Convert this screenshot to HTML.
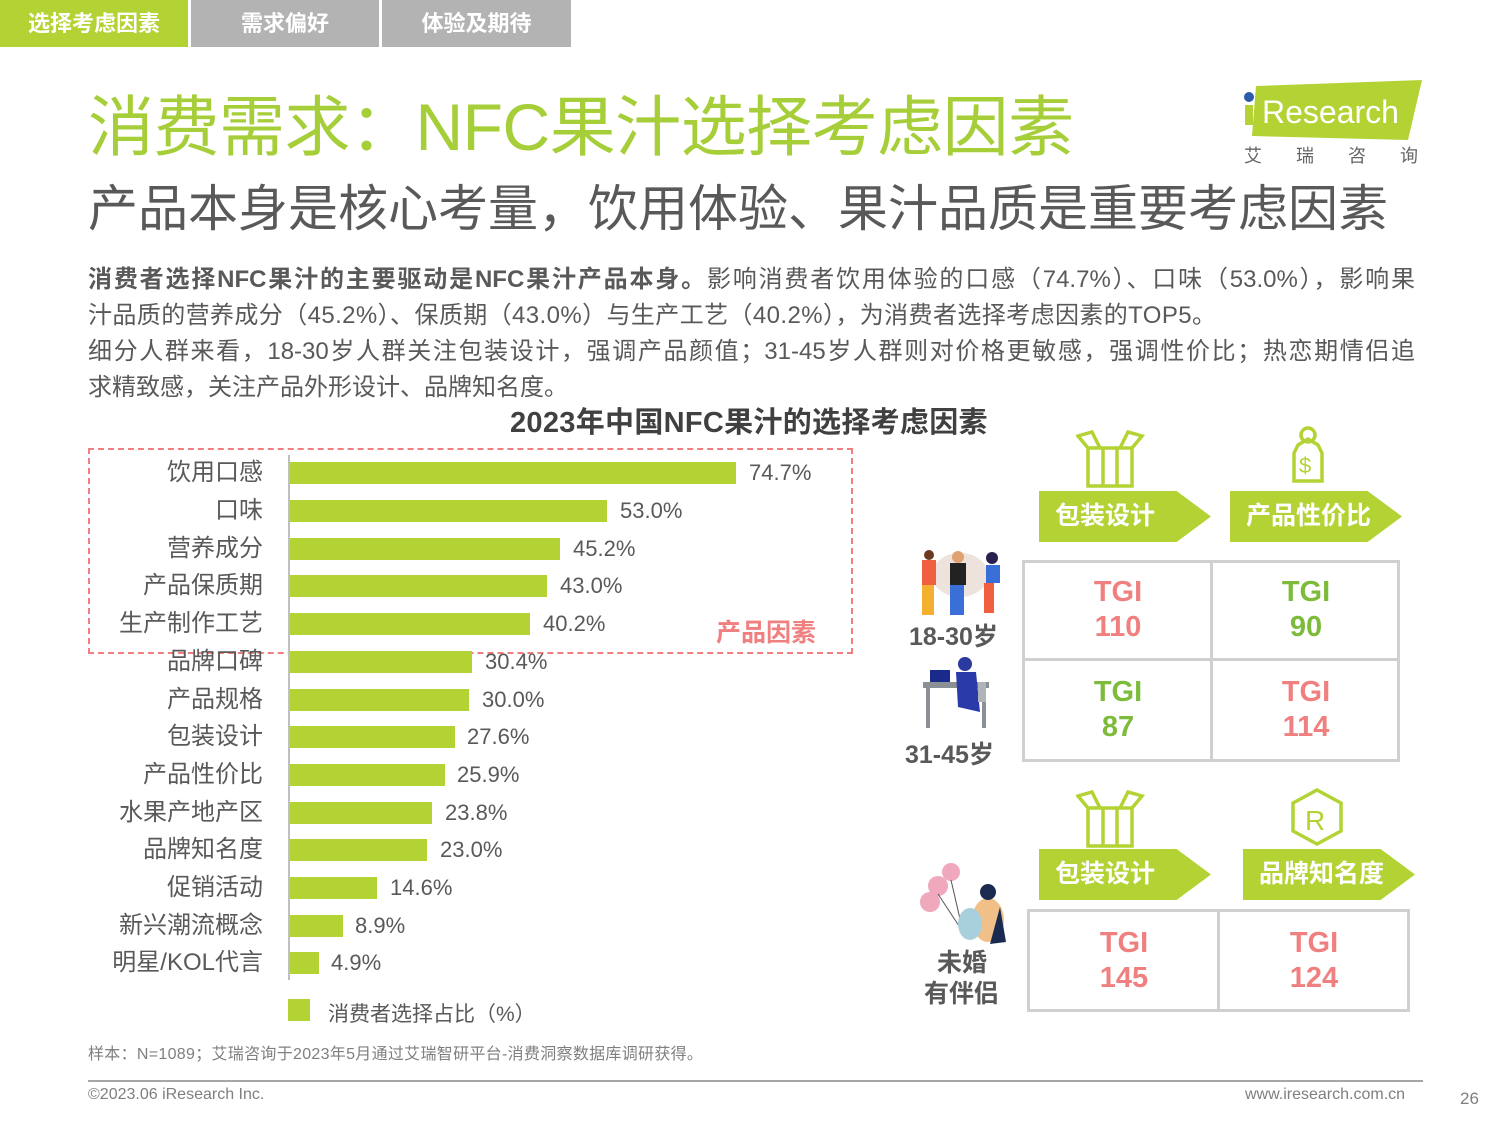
<!DOCTYPE html>
<html><head><meta charset="utf-8"><style>
*{margin:0;padding:0;box-sizing:border-box}
body{width:1500px;height:1125px;background:#fff;position:relative;overflow:hidden;font-family:"Liberation Sans","Noto Sans CJK SC",sans-serif;color:#595959}
.a{position:absolute;white-space:nowrap}
.tab{position:absolute;top:0;height:47px;color:#fff;font-weight:bold;font-size:22px;text-align:center;line-height:47px}
.lbl{position:absolute;right:1237px;font-size:24px;color:#595959;line-height:30px}
.bar{position:absolute;left:290px;height:22px;background:#b3d334}
.val{position:absolute;font-size:22px;color:#595959;line-height:30px}
.arrow{position:absolute;height:51px;background:#b3d334;clip-path:polygon(0 0,80% 0,100% 50%,80% 100%,0 100%);color:#fff;font-weight:bold;font-size:25px;line-height:51px;padding-left:16px}
.grid{position:absolute;border:3px solid #d0d0d0}
.cell{position:absolute;text-align:center;font-weight:bold;font-size:29px;line-height:35px}
.pk{color:#f08080}.gr{color:#7dbb3a}
.p{font-size:24px;line-height:36px;color:#595959}
</style></head><body>
<div class="tab" style="left:0;width:188px;background:#b3d334">选择考虑因素</div>
<div class="tab" style="left:191px;width:188px;background:#b3b3b3">需求偏好</div>
<div class="tab" style="left:382px;width:189px;background:#b3b3b3">体验及期待</div>

<div class="a" style="left:88px;top:84px;font-size:66px;color:#a6ce39;line-height:86px;letter-spacing:-0.5px">消费需求：NFC果汁选择考虑因素</div>
<div class="a" style="left:88px;top:178px;font-size:50px;color:#595959;line-height:62px">产品本身是核心考量，饮用体验、果汁品质是重要考虑因素</div>

<svg class="a" style="left:1240px;top:78px" width="185" height="90">
<polygon points="16,8 182,2 168,62 12,58" fill="#b3d334"/>
<circle cx="9" cy="19" r="5" fill="#2a5caa"/>
<rect x="5" y="27" width="8" height="20" fill="#b3d334"/>
<text x="22" y="45" font-size="32" fill="#fff" font-family="Liberation Sans">Research</text>
<text x="4" y="84" font-size="18" fill="#666" font-family="Noto Sans CJK SC" letter-spacing="34">艾瑞咨询</text>
</svg>

<div class="a p" style="left:88px;top:262px;width:1327px;text-align:justify;text-align-last:justify"><b>消费者选择NFC果汁的主要驱动是NFC果汁产品本身。</b>影响消费者饮用体验的口感（74.7%）、口味（53.0%），影响果</div>
<div class="a p" style="left:88px;top:298px;letter-spacing:0.4px">汁品质的营养成分（45.2%）、保质期（43.0%）与生产工艺（40.2%），为消费者选择考虑因素的TOP5。</div>
<div class="a p" style="left:88px;top:334px;width:1327px;text-align:justify;text-align-last:justify">细分人群来看，18-30岁人群关注包装设计，强调产品颜值；31-45岁人群则对价格更敏感，强调性价比；热恋期情侣追</div>
<div class="a p" style="left:88px;top:370px">求精致感，关注产品外形设计、品牌知名度。</div>

<div class="a" style="left:510px;top:404px;font-size:29px;font-weight:bold;color:#404040;line-height:38px;letter-spacing:0.3px">2023年中国NFC果汁的选择考虑因素</div>

<div class="a" style="left:88px;top:448px;width:765px;height:206px;border:2px dashed #f08080"></div>
<div class="a" style="left:716px;top:613px;font-size:25px;font-weight:bold;color:#f08080">产品因素</div>
<div class="a" style="left:288px;top:455px;width:2px;height:525px;background:#bfbfbf"></div>

<div class="lbl" style="top:458px">饮用口感</div><div class="bar" style="top:462px;width:446px"></div><div class="val" style="top:458px;left:749px">74.7%</div>
<div class="lbl" style="top:496px">口味</div><div class="bar" style="top:500px;width:317px"></div><div class="val" style="top:496px;left:620px">53.0%</div>
<div class="lbl" style="top:534px">营养成分</div><div class="bar" style="top:538px;width:270px"></div><div class="val" style="top:534px;left:573px">45.2%</div>
<div class="lbl" style="top:571px">产品保质期</div><div class="bar" style="top:575px;width:257px"></div><div class="val" style="top:571px;left:560px">43.0%</div>
<div class="lbl" style="top:609px">生产制作工艺</div><div class="bar" style="top:613px;width:240px"></div><div class="val" style="top:609px;left:543px">40.2%</div>
<div class="lbl" style="top:647px">品牌口碑</div><div class="bar" style="top:651px;width:182px"></div><div class="val" style="top:647px;left:485px">30.4%</div>
<div class="lbl" style="top:685px">产品规格</div><div class="bar" style="top:689px;width:179px"></div><div class="val" style="top:685px;left:482px">30.0%</div>
<div class="lbl" style="top:722px">包装设计</div><div class="bar" style="top:726px;width:165px"></div><div class="val" style="top:722px;left:467px">27.6%</div>
<div class="lbl" style="top:760px">产品性价比</div><div class="bar" style="top:764px;width:155px"></div><div class="val" style="top:760px;left:457px">25.9%</div>
<div class="lbl" style="top:798px">水果产地产区</div><div class="bar" style="top:802px;width:142px"></div><div class="val" style="top:798px;left:445px">23.8%</div>
<div class="lbl" style="top:835px">品牌知名度</div><div class="bar" style="top:839px;width:137px"></div><div class="val" style="top:835px;left:440px">23.0%</div>
<div class="lbl" style="top:873px">促销活动</div><div class="bar" style="top:877px;width:87px"></div><div class="val" style="top:873px;left:390px">14.6%</div>
<div class="lbl" style="top:911px">新兴潮流概念</div><div class="bar" style="top:915px;width:53px"></div><div class="val" style="top:911px;left:355px">8.9%</div>
<div class="lbl" style="top:948px">明星/KOL代言</div><div class="bar" style="top:952px;width:29px"></div><div class="val" style="top:948px;left:331px">4.9%</div>

<div class="a" style="left:288px;top:999px;width:22px;height:22px;background:#b3d334"></div>
<div class="a" style="left:328px;top:998px;font-size:21px;color:#595959">消费者选择占比（%）</div>

<svg class="a" style="left:1076px;top:430px" width="72" height="60" fill="none" stroke="#b3d334" stroke-width="3.5">
<rect x="12" y="18" width="44" height="38"/><line x1="27" y1="18" x2="27" y2="56"/><line x1="41" y1="18" x2="41" y2="56"/>
<polyline points="12,18 2,6 16,2 24,18"/><polyline points="56,18 66,6 52,2 44,18"/></svg>
<svg class="a" style="left:1288px;top:425px" width="40" height="62" fill="none" stroke="#b3d334" stroke-width="3.5">
<circle cx="20" cy="10" r="7"/><path d="M10,20 L20,14 L30,20 L34,28 L34,56 L6,56 L6,28 Z"/><text x="11" y="48" font-size="22" fill="#b3d334" stroke="none" font-family="Liberation Sans">$</text></svg>
<svg class="a" style="left:1076px;top:790px" width="72" height="60" fill="none" stroke="#b3d334" stroke-width="3.5">
<rect x="12" y="18" width="44" height="38"/><line x1="27" y1="18" x2="27" y2="56"/><line x1="41" y1="18" x2="41" y2="56"/>
<polyline points="12,18 2,6 16,2 24,18"/><polyline points="56,18 66,6 52,2 44,18"/></svg>
<svg class="a" style="left:1290px;top:787px" width="54" height="60" fill="none" stroke="#b3d334" stroke-width="3.5">
<polygon points="27,3 51,16 51,44 27,57 3,44 3,16"/><text x="15" y="43" font-size="28" fill="#b3d334" stroke="none" font-family="Liberation Sans">R</text></svg>

<div class="arrow" style="left:1039px;top:491px;width:172px">包装设计</div>
<div class="arrow" style="left:1230px;top:491px;width:172px">产品性价比</div>
<div class="arrow" style="left:1039px;top:849px;width:172px">包装设计</div>
<div class="arrow" style="left:1243px;top:849px;width:172px">品牌知名度</div>

<div class="grid" style="left:1022px;top:560px;width:378px;height:202px"></div>
<div class="a" style="left:1210px;top:560px;width:3px;height:202px;background:#d0d0d0"></div>
<div class="a" style="left:1022px;top:658px;width:378px;height:3px;background:#d0d0d0"></div>
<div class="cell pk" style="left:1025px;top:575px;width:186px">TGI<br>110</div>
<div class="cell gr" style="left:1213px;top:575px;width:186px">TGI<br>90</div>
<div class="cell gr" style="left:1025px;top:675px;width:186px">TGI<br>87</div>
<div class="cell pk" style="left:1213px;top:675px;width:186px">TGI<br>114</div>

<div class="grid" style="left:1027px;top:909px;width:383px;height:103px"></div>
<div class="a" style="left:1217px;top:909px;width:3px;height:103px;background:#d0d0d0"></div>
<div class="cell pk" style="left:1030px;top:926px;width:188px">TGI<br>145</div>
<div class="cell pk" style="left:1220px;top:926px;width:188px">TGI<br>124</div>

<svg class="a" style="left:910px;top:545px" width="100" height="75">
<ellipse cx="50" cy="30" rx="28" ry="22" fill="#ede3dc"/>
<rect x="12" y="15" width="14" height="25" fill="#f06040"/><rect x="12" y="40" width="12" height="30" fill="#f4b030"/>
<rect x="40" y="18" width="16" height="22" fill="#222"/><rect x="40" y="40" width="14" height="30" fill="#3a6fd8"/>
<rect x="76" y="20" width="14" height="18" fill="#3a6fd8"/><rect x="74" y="38" width="10" height="30" fill="#f06040"/>
<circle cx="19" cy="10" r="5" fill="#6a3a20"/><circle cx="48" cy="12" r="6" fill="#e0a070"/><circle cx="82" cy="13" r="6" fill="#2a2050"/></svg>
<div class="a" style="left:909px;top:617px;font-size:25px;font-weight:bold;color:#595959">18-30岁</div>
<svg class="a" style="left:920px;top:652px" width="75" height="80">
<rect x="3" y="30" width="66" height="6" fill="#8a9096"/><rect x="6" y="36" width="4" height="40" fill="#8a9096"/><rect x="62" y="36" width="4" height="40" fill="#8a9096"/>
<rect x="10" y="18" width="20" height="12" fill="#1a2a8a"/><circle cx="45" cy="12" r="7" fill="#2a3aa0"/><path d="M36,20 L56,20 L60,60 L38,55 Z" fill="#2a3aa8"/><rect x="58" y="30" width="8" height="20" fill="#b0b4b8"/></svg>
<div class="a" style="left:905px;top:735px;font-size:25px;font-weight:bold;color:#595959">31-45岁</div>
<svg class="a" style="left:918px;top:862px" width="90" height="85">
<circle cx="33" cy="10" r="9" fill="#f0a8bc"/><circle cx="20" cy="24" r="10" fill="#f0a8bc"/><circle cx="12" cy="40" r="10" fill="#f0a8bc"/>
<line x1="33" y1="18" x2="45" y2="70" stroke="#555"/><line x1="20" y1="32" x2="45" y2="70" stroke="#555"/>
<ellipse cx="70" cy="58" rx="16" ry="22" fill="#f0c088"/><circle cx="70" cy="30" r="8" fill="#1a2a50"/><ellipse cx="52" cy="62" rx="12" ry="16" fill="#a8d0dc"/><path d="M82,45 L88,80 L72,82 Z" fill="#1a2a50"/></svg>
<div class="a" style="left:937px;top:948px;font-size:25px;font-weight:bold;color:#595959;line-height:30px">未婚</div>
<div class="a" style="left:924px;top:979px;font-size:25px;font-weight:bold;color:#595959;line-height:30px">有伴侣</div>

<div class="a" style="left:88px;top:1040px;font-size:16px;color:#7f7f7f;letter-spacing:0.3px">样本：N=1089；艾瑞咨询于2023年5月通过艾瑞智研平台-消费洞察数据库调研获得。</div>
<div class="a" style="left:88px;top:1080px;width:1335px;height:2px;background:#a6a6a6"></div>
<div class="a" style="left:88px;top:1086px;font-size:16px;color:#7f7f7f">©2023.06 iResearch Inc.</div>
<div class="a" style="left:1245px;top:1086px;font-size:16px;color:#7f7f7f">www.iresearch.com.cn</div>
<div class="a" style="left:1460px;top:1089px;font-size:17px;color:#7f7f7f">26</div>
</body></html>
